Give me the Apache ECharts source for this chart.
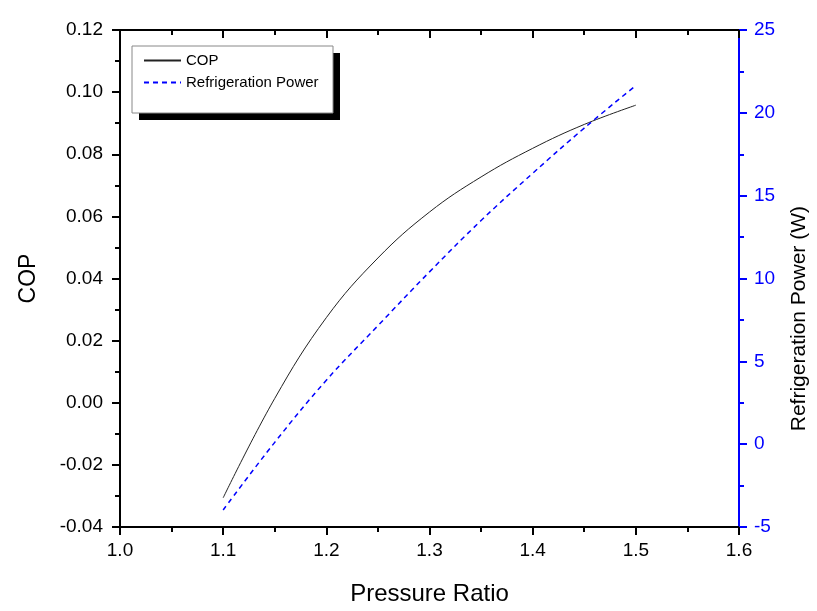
<!DOCTYPE html>
<html>
<head>
<meta charset="utf-8">
<script src="https://cdn.jsdelivr.net/npm/echarts@6/dist/echarts.min.js"></script>
<style>html,body{margin:0;padding:0;background:#fff;overflow:hidden}#c{width:817px;height:611px}</style>
</head>
<body>
<div id="c"></div>
<script>
var pressureRatio = [1.10,1.15,1.20,1.25,1.30,1.35,1.40,1.45,1.50];
var cop = [-0.0306,0.0014,0.0274,0.0466,0.0614,0.0727,0.0819,0.0896,0.0958];
var refrigerationPower = [-3.97,0.11,3.86,7.15,10.40,13.50,16.35,19.08,21.65];
var seriesNames = ['COP','Refrigeration Power'];
var xAxisName = 'Pressure Ratio';
var leftAxisName = 'COP';
var rightAxisName = 'Refrigeration Power (W)';

var FONT = 'Liberation Sans, Arial, sans-serif';
var chart = echarts.init(document.getElementById('c'), null, {renderer:'canvas'});
function pairs(xs, ys){ return xs.map(function(x,i){return [x, ys[i]];}); }
chart.setOption({
  backgroundColor:'#ffffff',
  animation:false,
  grid:{left:120,right:78,top:30,bottom:77},
  legend:{
    orient:'vertical', left:132, top:46, z:10,
    padding:[7,18,26,11], itemGap:7, itemWidth:37, itemHeight:14,
    itemStyle:{opacity:0},
    textStyle:{fontFamily:FONT, fontSize:15, color:'#000'},
    data:seriesNames
  },
  graphic:[{
    type:'rect', z:5, shape:{x:139, y:53, width:201, height:67},
    style:{fill:'#000000'}
  },{
    type:'rect', z:6, shape:{x:132, y:46, width:201, height:67},
    style:{fill:'#ffffff', stroke:'#888888', lineWidth:1}
  },{
    type:'text', left:789, top:206, rotation:Math.PI/2,
    style:{text:rightAxisName, font:'21px '+FONT, fill:'#000'}
  }],
  xAxis:[{
    type:'value', min:1.0, max:1.6, interval:0.1, position:'bottom',
    name:xAxisName, nameLocation:'middle', nameGap:55,
    nameTextStyle:{fontFamily:FONT, fontSize:24, color:'#000'},
    axisLine:{show:true, onZero:false, lineStyle:{color:'#000', width:2}},
    axisTick:{show:true, length:8, lineStyle:{color:'#000', width:2}},
    minorTick:{show:true, splitNumber:2, length:5, lineStyle:{color:'#000', width:2}},
    axisLabel:{fontFamily:FONT, fontSize:19, color:'#000', margin:14, formatter:function(v){return v.toFixed(1);}},
    splitLine:{show:false}
  },{
    type:'value', min:1.0, max:1.6, interval:0.1, position:'top',
    axisLine:{show:true, onZero:false, lineStyle:{color:'#000', width:2}},
    axisTick:{show:true, inside:true, length:8, lineStyle:{color:'#000', width:2}},
    minorTick:{show:true, splitNumber:2, length:5, lineStyle:{color:'#000', width:2}},
    axisLabel:{show:false}, splitLine:{show:false}
  }],
  yAxis:[{
    type:'value', min:-0.04, max:0.12, interval:0.02, position:'left',
    name:leftAxisName, nameLocation:'middle', nameGap:80, nameRotate:90,
    nameTextStyle:{fontFamily:FONT, fontSize:23, color:'#000'},
    axisLine:{show:true, onZero:false, lineStyle:{color:'#000', width:2}},
    axisTick:{show:true, length:8, lineStyle:{color:'#000', width:2}},
    minorTick:{show:true, splitNumber:2, length:5, lineStyle:{color:'#000', width:2}},
    axisLabel:{fontFamily:FONT, fontSize:19, color:'#000', margin:17, formatter:function(v){return v.toFixed(2);}},
    splitLine:{show:false}
  },{
    type:'value', min:-5, max:25, interval:5, position:'right',
    axisLine:{show:true, onZero:false, lineStyle:{color:'#0000ff', width:2}},
    axisTick:{show:true, length:8, lineStyle:{color:'#0000ff', width:2}},
    minorTick:{show:true, splitNumber:2, length:5, lineStyle:{color:'#0000ff', width:2}},
    axisLabel:{fontFamily:FONT, fontSize:19, color:'#0000ff', margin:15},
    splitLine:{show:false}
  }],
  series:[{
    name:seriesNames[0], type:'line', xAxisIndex:0, yAxisIndex:0,
    data:pairs(pressureRatio, cop), smooth:0.4, symbol:'none',
    lineStyle:{color:'#222222', width:1}, itemStyle:{color:'#222222'}
  },{
    name:seriesNames[1], type:'line', xAxisIndex:0, yAxisIndex:1,
    data:pairs(pressureRatio, refrigerationPower), smooth:0.4, symbol:'none',
    lineStyle:{color:'#0000ff', width:1.5, type:[5,4]}, itemStyle:{color:'#0000ff'}
  }]
});
</script>
</body>
</html>
